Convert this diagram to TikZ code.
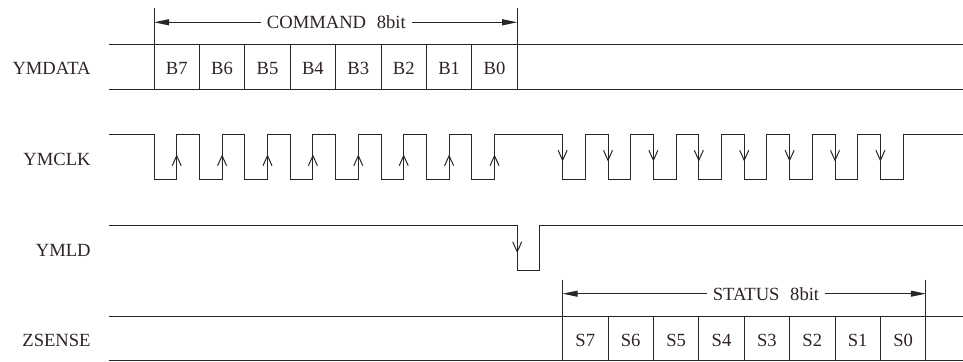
\documentclass[tikz,border=0pt]{standalone}
\usepackage{fontspec}
\setmainfont{Liberation Serif}
\usetikzlibrary{arrows.meta}
\definecolor{ink}{RGB}{45,35,40}
\tikzset{
  wave/.style={line width=0.5pt, draw=black!85},
  edgemark/.style={line width=0.5pt, draw=black!85, -{Straight Barb[length=5pt,width=4.5pt]}},
  dimline/.style={line width=0.5pt, draw=black!85, {Triangle[length=7.5pt,width=3pt]}-{Triangle[length=7.5pt,width=3pt]}},
  siglabel/.style={anchor=east, inner sep=0pt, text=ink},
  bitlabel/.style={inner sep=0pt, text=ink},
  dimtext/.style={fill=white, inner xsep=3pt, inner ysep=1pt, text=ink},
}
\begin{document}
\begin{tikzpicture}[x=0.5pt, y=-0.5pt, font=\fontsize{9.3}{11}\selectfont]
  \useasboundingbox (0,0) rectangle (963,362);
  % signal names
  \node[siglabel] (ymdata) at (91,68.8) {YMDATA};
  \node[siglabel] (ymclk) at (91,159.7) {YMCLK};
  \node[siglabel] (ymld) at (91,250) {YMLD};
  \node[siglabel] (zsense) at (91,340) {ZSENSE};
  % YMDATA, command byte
  \draw[wave] (109,44.5) -- (963,44.5) (109,89.5) -- (963,89.5);
  \foreach \k in {0,...,8}
    \draw[wave] ({154+45.4*\k},44.5) -- ({154+45.4*\k},89.5);
  \draw[wave] (154,8.3) -- (154,44.5);
  \draw[wave] (517.2,8.3) -- (517.2,44.5);
  \foreach \k [evaluate=\k as \b using int(7-\k)] in {0,...,7}
    \node[bitlabel] (b\b) at ({176.7+45.4*\k},68.8) {B\b};
  \coordinate (cmdL) at (154,22.3);
  \coordinate (cmdR) at (517.2,22.3);
  \draw[dimline] (cmdL) -- node[dimtext, pos=0.502] (cmdtext) {COMMAND\hspace{3pt} 8bit} (cmdR);
  % YMCLK
  \draw[wave] (109,135)
    foreach \k in {0,...,7} { -| ({154+45.4*\k},180) -| ({176.7+45.4*\k},135) }
    foreach \k in {9,...,16} { -| ({154+45.4*\k},180) -| ({176.7+45.4*\k},135) }
    -- (963,135);
  \foreach \k in {0,...,7}
    \draw[edgemark] ({176.7+45.4*\k},167) -- ({176.7+45.4*\k},154.5);
  \foreach \k in {9,...,16}
    \draw[edgemark] ({154+45.4*\k},149) -- ({154+45.4*\k},161.5);
  % YMLD
  \draw[wave] (109,225.3) -| (517.2,270.7) -| (539.9,225.3) -- (963,225.3);
  \draw[edgemark] (517.2,241) -- (517.2,253);
  % ZSENSE, status byte
  \draw[wave] (109,316.5) -- (963,316.5) (109,361) -- (963,361);
  \foreach \k in {0,...,8}
    \draw[wave] ({562.6+45.4*\k},316.5) -- ({562.6+45.4*\k},361);
  \draw[wave] (562.6,280) -- (562.6,316.5);
  \draw[wave] (925.8,280) -- (925.8,316.5);
  \foreach \k [evaluate=\k as \b using int(7-\k)] in {0,...,7}
    \node[bitlabel] (s\b) at ({585.3+45.4*\k},340.5) {S\b};
  \coordinate (statL) at (562.6,293.7);
  \coordinate (statR) at (925.8,293.7);
  \draw[dimline] (statL) -- node[dimtext, pos=0.56] (stattext) {STATUS\hspace{3pt} 8bit} (statR);
\end{tikzpicture}
\end{document}
